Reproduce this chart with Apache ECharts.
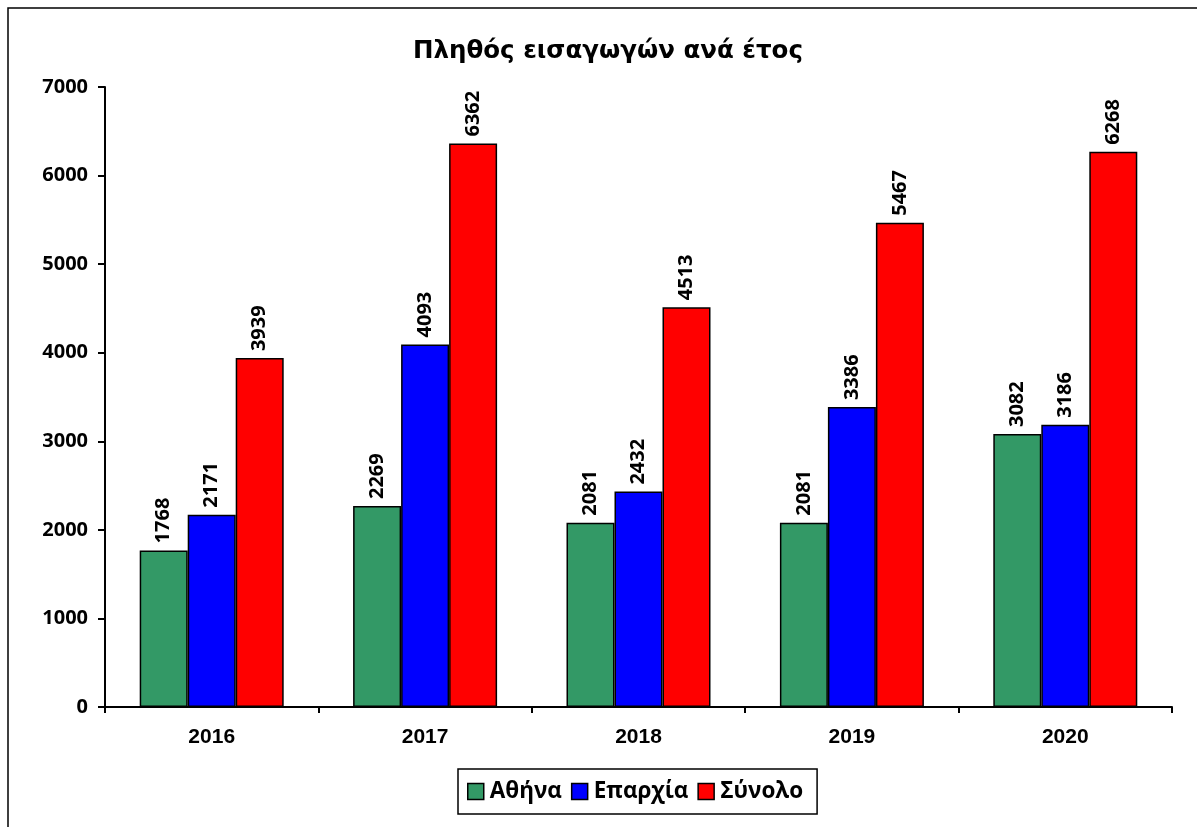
<!DOCTYPE html>
<html><head><meta charset="utf-8">
<script src="https://cdn.jsdelivr.net/npm/echarts@6/dist/echarts.min.js"></script>
<style>html,body{margin:0;padding:0;background:#fff}#c{width:1197px;height:827px}</style>
</head><body><div id="c"></div>
<script>
const categories = ['2016','2017','2018','2019','2020'];
const athina = [1768, 2269, 2081, 2081, 3082];
const eparchia = [2171, 4093, 2432, 3386, 3186];
const synolo = [3939, 6362, 4513, 5467, 6268];
const seriesNames = ['Αθήνα','Επαρχία','Σύνολο'];
const colors = ['#339966','#0000FF','#FF0000'];

const chart = echarts.init(document.getElementById('c'), null, {renderer:'canvas'});
const lbl = {show:true, position:'top', rotate:90, align:'left', verticalAlign:'middle', distance:7,
  color:'#000', fontWeight:'bold', fontSize:20, fontFamily:'Open Sans'};
function mk(name, data, color){
  return {name, type:'bar', data, barWidth:48, barGap:'0%',
    itemStyle:{color, borderColor:'#000', borderWidth:1.5}, label:lbl};
}
chart.setOption({
  animation:false,
  title:{text:'Πληθός εισαγωγών ανά έτος', left:413, top:39, padding:0,
    textStyle:{fontFamily:'DejaVu Sans', fontWeight:'bold', fontSize:24.5, color:'#000'}},
  graphic:[{type:'rect', shape:{x:8, y:8, width:1200, height:840}, style:{fill:null, stroke:'#000', lineWidth:1.5}, silent:true}],
  legend:{bottom:13, left:458, itemWidth:16, itemHeight:16, itemGap:9,
    padding:[11,14,11,9], borderColor:'#000', borderWidth:1.5,
    textStyle:{fontFamily:'Open Sans', fontWeight:'bold', fontSize:22.5, color:'#000', padding:[0,0,0,1]},
    data:seriesNames.map((n,i)=>({name:n, icon:'rect', itemStyle:{borderColor:'#000', borderWidth:1.5}}))},
  grid:{left:105, right:25, top:87, bottom:120, containLabel:false},
  xAxis:{type:'category', data:categories,
    axisLine:{lineStyle:{color:'#000', width:2}},
    axisTick:{show:true, length:6, lineStyle:{color:'#000', width:2}},
    axisLabel:{fontFamily:'Liberation Sans', fontWeight:'bold', fontSize:21, color:'#000', margin:20}},
  yAxis:{type:'value', min:0, max:7000, interval:1000,
    axisLine:{show:true, lineStyle:{color:'#000', width:2}},
    axisTick:{show:true, length:7, lineStyle:{color:'#000', width:2}},
    splitLine:{show:false},
    axisLabel:{fontFamily:'Open Sans', fontWeight:'bold', fontSize:20, color:'#000', margin:17,
      formatter:v=>String(v)}},
  series:[mk(seriesNames[0], athina, colors[0]), mk(seriesNames[1], eparchia, colors[1]), mk(seriesNames[2], synolo, colors[2])]
});
</script></body></html>
